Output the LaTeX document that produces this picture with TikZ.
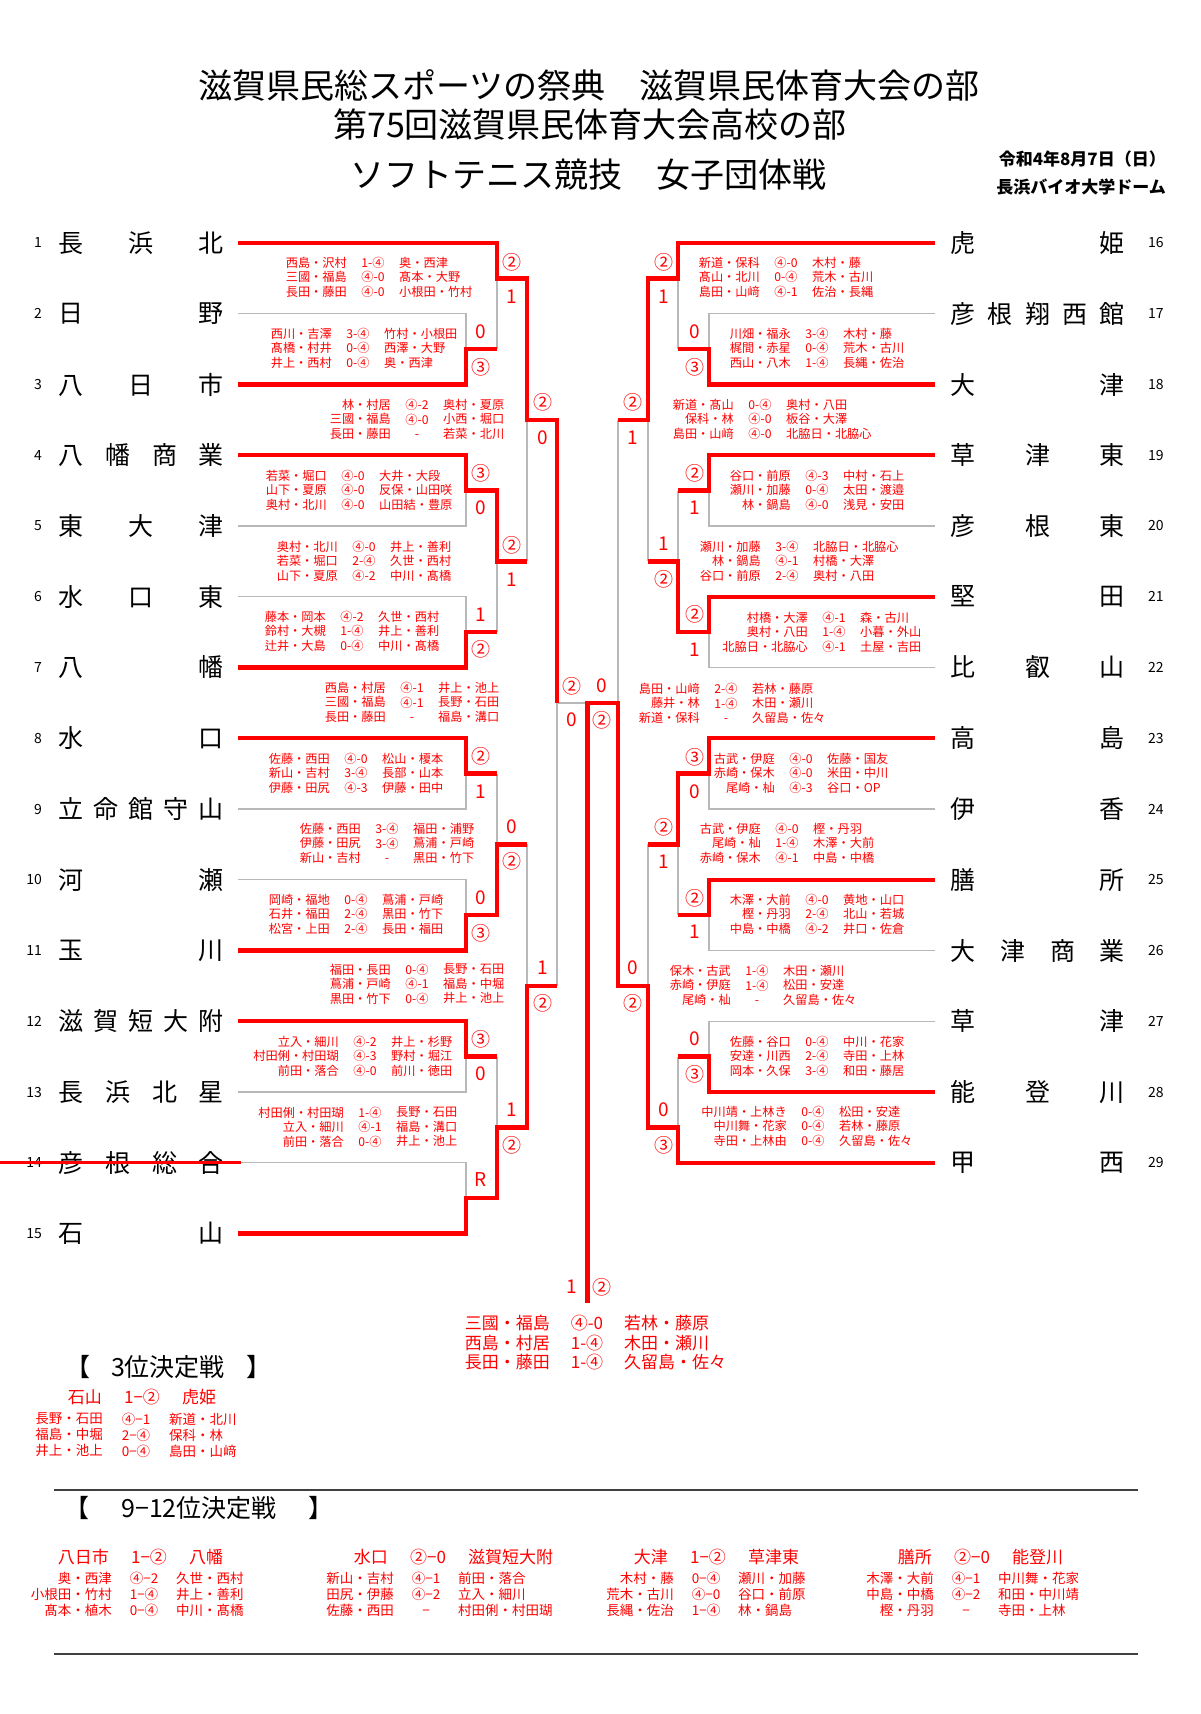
\documentclass[tikz,border=0pt]{standalone}
\usepackage{fontspec}
\setmainfont{Noto Sans CJK JP}
\newcommand\lname[1]{\makebox[165pt]{#1}}
\newcommand\rname[1]{\makebox[174pt]{#1}}
% three columns of a result: pairs, score, pairs
\newcommand\trio[8]{%
  \node[#2,anchor=east,align=right] (#1l) at (#4-#3,#5) {#6};
  \node[#2,align=center] (#1s) at (#4,#5) {#7};
  \node[#2,anchor=west,align=left] (#1r) at (#4+#3,#5) {#8};}
\tikzset{
  win/.style={draw=red,line width=4.3pt},
  lose/.style={draw=black!28,line width=1.3pt},
  rule/.style={draw=black!75,line width=1.3pt},
  strike/.style={draw=red,line width=3pt},
  sc/.style={text=red,inner sep=0pt,font=\fontsize{19}{19}\selectfont},
  team/.style={inner sep=0pt,anchor=west,font=\fontsize{25}{25}\selectfont},
  num/.style={inner sep=0pt,font=\fontsize{14}{14}\selectfont},
  res/.style={text=red,inner sep=0pt,font=\fontsize{12.2}{14.5}\selectfont},
  resbig/.style={text=red,inner sep=0pt,font=\fontsize{17}{19.5}\selectfont},
  resmid/.style={text=red,inner sep=0pt,font=\fontsize{13.5}{16}\selectfont},
  mhead/.style={text=red,inner sep=0pt,font=\fontsize{17}{17}\selectfont},
  toptitle/.style={inner sep=0pt,font=\fontsize{34}{34}\selectfont},
  sect/.style={inner sep=0pt,font=\fontsize{25}{25}\selectfont},
  info/.style={inner sep=0pt,anchor=east,font=\bfseries\fontsize{17}{17}\selectfont},
}
\begin{document}
\begin{tikzpicture}[x=1pt,y=-1pt]
\path[fill=white,use as bounding box] (0,0) rectangle (1200,1714);

% header
\node[toptitle] (h1) at (589,85) {滋賀県民総スポーツの祭典　滋賀県民体育大会の部};
\node[toptitle] (h2) at (590,125) {第75回滋賀県民体育大会高校の部};
\node[toptitle] (h3) at (588,175) {ソフトテニス競技　女子団体戦};
\node[info] (d1) at (1166,159) {令和4年8月7日（日）};
\node[info] (d2) at (1166,187) {長浜バイオ大学ドーム};

% left teams
\node[num,anchor=east] (no1) at (42,243) {1}; \node[team] (t1) at (58.5,243) {\lname{長\hfill{}浜\hfill{}北}}; \coordinate (L1) at (238,243);
\node[num,anchor=east] (no2) at (42,313.8) {2}; \node[team] (t2) at (58.5,313.8) {\lname{日\hfill{}野}}; \coordinate (L2) at (238,313.8);
\node[num,anchor=east] (no3) at (42,384.5) {3}; \node[team] (t3) at (58.5,384.5) {\lname{八\hfill{}日\hfill{}市}}; \coordinate (L3) at (238,384.5);
\node[num,anchor=east] (no4) at (42,455.3) {4}; \node[team] (t4) at (58.5,455.3) {\lname{八\hfill{}幡\hfill{}商\hfill{}業}}; \coordinate (L4) at (238,455.3);
\node[num,anchor=east] (no5) at (42,526) {5}; \node[team] (t5) at (58.5,526) {\lname{東\hfill{}大\hfill{}津}}; \coordinate (L5) at (238,526);
\node[num,anchor=east] (no6) at (42,596.8) {6}; \node[team] (t6) at (58.5,596.8) {\lname{水\hfill{}口\hfill{}東}}; \coordinate (L6) at (238,596.8);
\node[num,anchor=east] (no7) at (42,667.5) {7}; \node[team] (t7) at (58.5,667.5) {\lname{八\hfill{}幡}}; \coordinate (L7) at (238,667.5);
\node[num,anchor=east] (no8) at (42,738.3) {8}; \node[team] (t8) at (58.5,738.3) {\lname{水\hfill{}口}}; \coordinate (L8) at (238,738.3);
\node[num,anchor=east] (no9) at (42,809) {9}; \node[team] (t9) at (58.5,809) {\lname{立\hfill{}命\hfill{}館\hfill{}守\hfill{}山}}; \coordinate (L9) at (238,809);
\node[num,anchor=east] (no10) at (42,879.8) {10}; \node[team] (t10) at (58.5,879.8) {\lname{河\hfill{}瀬}}; \coordinate (L10) at (238,879.8);
\node[num,anchor=east] (no11) at (42,950.5) {11}; \node[team] (t11) at (58.5,950.5) {\lname{玉\hfill{}川}}; \coordinate (L11) at (238,950.5);
\node[num,anchor=east] (no12) at (42,1021.3) {12}; \node[team] (t12) at (58.5,1021.3) {\lname{滋\hfill{}賀\hfill{}短\hfill{}大\hfill{}附}}; \coordinate (L12) at (238,1021.3);
\node[num,anchor=east] (no13) at (42,1092) {13}; \node[team] (t13) at (58.5,1092) {\lname{長\hfill{}浜\hfill{}北\hfill{}星}}; \coordinate (L13) at (238,1092);
\node[num,anchor=east] (no14) at (42,1162.8) {14}; \node[team] (t14) at (58.5,1162.8) {\lname{彦\hfill{}根\hfill{}総\hfill{}合}}; \coordinate (L14) at (238,1162.8);
\node[num,anchor=east] (no15) at (42,1233.5) {15}; \node[team] (t15) at (58.5,1233.5) {\lname{石\hfill{}山}}; \coordinate (L15) at (238,1233.5);

% right teams
\node[team] (t16) at (950.5,243) {\rname{虎\hfill{}姫}}; \node[num,anchor=west] (no16) at (1148,243) {16}; \coordinate (R16) at (935,243);
\node[team] (t17) at (950.5,313.8) {\rname{彦\hfill{}根\hfill{}翔\hfill{}西\hfill{}館}}; \node[num,anchor=west] (no17) at (1148,313.8) {17}; \coordinate (R17) at (935,313.8);
\node[team] (t18) at (950.5,384.5) {\rname{大\hfill{}津}}; \node[num,anchor=west] (no18) at (1148,384.5) {18}; \coordinate (R18) at (935,384.5);
\node[team] (t19) at (950.5,455.3) {\rname{草\hfill{}津\hfill{}東}}; \node[num,anchor=west] (no19) at (1148,455.3) {19}; \coordinate (R19) at (935,455.3);
\node[team] (t20) at (950.5,526) {\rname{彦\hfill{}根\hfill{}東}}; \node[num,anchor=west] (no20) at (1148,526) {20}; \coordinate (R20) at (935,526);
\node[team] (t21) at (950.5,596.8) {\rname{堅\hfill{}田}}; \node[num,anchor=west] (no21) at (1148,596.8) {21}; \coordinate (R21) at (935,596.8);
\node[team] (t22) at (950.5,667.5) {\rname{比\hfill{}叡\hfill{}山}}; \node[num,anchor=west] (no22) at (1148,667.5) {22}; \coordinate (R22) at (935,667.5);
\node[team] (t23) at (950.5,738.3) {\rname{高\hfill{}島}}; \node[num,anchor=west] (no23) at (1148,738.3) {23}; \coordinate (R23) at (935,738.3);
\node[team] (t24) at (950.5,809) {\rname{伊\hfill{}香}}; \node[num,anchor=west] (no24) at (1148,809) {24}; \coordinate (R24) at (935,809);
\node[team] (t25) at (950.5,879.8) {\rname{膳\hfill{}所}}; \node[num,anchor=west] (no25) at (1148,879.8) {25}; \coordinate (R25) at (935,879.8);
\node[team] (t26) at (950.5,950.5) {\rname{大\hfill{}津\hfill{}商\hfill{}業}}; \node[num,anchor=west] (no26) at (1148,950.5) {26}; \coordinate (R26) at (935,950.5);
\node[team] (t27) at (950.5,1021.3) {\rname{草\hfill{}津}}; \node[num,anchor=west] (no27) at (1148,1021.3) {27}; \coordinate (R27) at (935,1021.3);
\node[team] (t28) at (950.5,1092) {\rname{能\hfill{}登\hfill{}川}}; \node[num,anchor=west] (no28) at (1148,1092) {28}; \coordinate (R28) at (935,1092);
\node[team] (t29) at (950.5,1162.8) {\rname{甲\hfill{}西}}; \node[num,anchor=west] (no29) at (1148,1162.8) {29}; \coordinate (R29) at (935,1162.8);

% joints
\coordinate (j23) at (466,349.1); \coordinate (j45) at (466,490.6); \coordinate (j67) at (466,632.1);
\coordinate (j89) at (466,773.6); \coordinate (j1011) at (466,915.1); \coordinate (j1213) at (466,1056.6);
\coordinate (j1415) at (466,1198.1);
\coordinate (q1) at (497,278.4); \coordinate (q2) at (497,561.4); \coordinate (q3) at (497,844.4); \coordinate (q4) at (497,1127.4);
\coordinate (m1) at (527,419.9); \coordinate (m2) at (527,985.9);
\coordinate (s1) at (557,702.9);
\coordinate (j1718) at (709,349.1); \coordinate (j1920) at (709,490.6); \coordinate (j2122) at (709,632.1);
\coordinate (j2324) at (709,773.6); \coordinate (j2526) at (709,915.1); \coordinate (j2728) at (709,1056.6);
\coordinate (q5) at (678,278.4); \coordinate (q6) at (678,561.4); \coordinate (q7) at (678,844.4); \coordinate (q8) at (678,1127.4);
\coordinate (m3) at (648,419.9); \coordinate (m4) at (648,985.9);
\coordinate (s2) at (618,702.9);
\coordinate (fa) at (587.5,702.9); \coordinate (fb) at (587.5,1303);

% left bracket
\draw[lose] (L2) -| (j23);
\draw[lose] (j23 -| q1) -- (q1);
\draw[lose] (L5) -| (j45);
\draw[lose] (L6) -| (j67);
\draw[lose] (j67 -| q2) -- (q2);
\draw[lose] (q2 -| m1) -- (m1);
\draw[lose] (L9) -| (j89);
\draw[lose] (L10) -| (j1011);
\draw[lose] (j89 -| q3) -- (q3);
\draw[lose] (q3 -| m2) -- (m2);
\draw[lose] (L13) -| (j1213);
\draw[lose] (L14) -| (j1415);
\draw[lose] (j1213 -| q4) -- (q4);
\draw[lose] (m2 -| s1) -- (s1);
\draw[lose] (s1) -- (fa);
\draw[win] (L1) -| (q1) -| (m1) -| (s1);
\draw[win] (L3) -| (j23) -- (j23 -| q1);
\draw[win] (L4) -| (j45) -| (q2) -- (q2 -| m1);
\draw[win] (L7) -| (j67) -- (j67 -| q2);
\draw[win] (L8) -| (j89) -- (j89 -| q3);
\draw[win] (L11) -| (j1011) -| (q3) -- (q3 -| m2);
\draw[win] (L12) -| (j1213) -- (j1213 -| q4);
\draw[win] (L15) -| (j1415) -| (q4) -| (m2) -- (m2 -| s1);

% right bracket
\draw[lose] (R17) -| (j1718);
\draw[lose] (j1718 -| q5) -- (q5);
\draw[lose] (R20) -| (j1920);
\draw[lose] (j1920 -| q6) -- (q6);
\draw[lose] (R22) -| (j2122);
\draw[lose] (q6 -| m3) -- (m3);
\draw[lose] (m3 -| s2) -- (s2);
\draw[lose] (R24) -| (j2324);
\draw[lose] (R26) -| (j2526);
\draw[lose] (j2526 -| q7) -- (q7);
\draw[lose] (q7 -| m4) -- (m4);
\draw[lose] (R27) -| (j2728);
\draw[lose] (j2728 -| q8) -- (q8);
\draw[win] (R16) -| (q5) -| (m3) -- (m3 -| s2);
\draw[win] (R18) -| (j1718) -- (j1718 -| q5);
\draw[win] (R19) -| (j1920) -- (j1920 -| q6);
\draw[win] (R21) -| (j2122) -| (q6) -- (q6 -| m3);
\draw[win] (R23) -| (j2324) -| (q7) -- (q7 -| m4);
\draw[win] (R25) -| (j2526) -- (j2526 -| q7);
\draw[win] (R28) -| (j2728) -- (j2728 -| q8);
\draw[win] (R29) -| (q8) -| (m4) -| (s2) -- (fa) -- (fb);

% withdrawn team
\coordinate (x1) at (0,1162.8); \coordinate (x2) at (241,1162.8);
\draw[strike] (x1) -- (x2);

% scores, left
\node[sc] (ls1) at (481,332) {0}; \node[sc] (ls2) at (481,367) {③};
\node[sc] (ls3) at (481,473) {③}; \node[sc] (ls4) at (481,508) {0};
\node[sc] (ls5) at (481,615) {1}; \node[sc] (ls6) at (481,649) {②};
\node[sc] (ls7) at (481,756) {②}; \node[sc] (ls8) at (481,792) {1};
\node[sc] (ls9) at (481,898) {0}; \node[sc] (ls10) at (481,933) {③};
\node[sc] (ls11) at (481,1039) {③}; \node[sc] (ls12) at (481,1074) {0};
\node[sc] (ls13) at (481,1180) {R};
\node[sc] (ls14) at (512,262) {②}; \node[sc] (ls15) at (512,297) {1};
\node[sc] (ls16) at (512,545) {②}; \node[sc] (ls17) at (512,580) {1};
\node[sc] (ls18) at (512,827) {0}; \node[sc] (ls19) at (512,861) {②};
\node[sc] (ls20) at (512,1110) {1}; \node[sc] (ls21) at (512,1145) {②};
\node[sc] (ls22) at (543,402) {②}; \node[sc] (ls23) at (543,438) {0};
\node[sc] (ls24) at (543,968) {1}; \node[sc] (ls25) at (543,1003) {②};
\node[sc] (ls26) at (572,686) {②}; \node[sc] (ls27) at (572,720) {0};

% scores, right
\node[sc] (rs1) at (695,332) {0}; \node[sc] (rs2) at (695,367) {③};
\node[sc] (rs3) at (695,473) {②}; \node[sc] (rs4) at (695,508) {1};
\node[sc] (rs5) at (695,614) {②}; \node[sc] (rs6) at (695,650) {1};
\node[sc] (rs7) at (695,757) {③}; \node[sc] (rs8) at (695,792) {0};
\node[sc] (rs9) at (695,898) {②}; \node[sc] (rs10) at (695,932) {1};
\node[sc] (rs11) at (695,1039) {0}; \node[sc] (rs12) at (695,1074) {③};
\node[sc] (rs13) at (664,262) {②}; \node[sc] (rs14) at (664,297) {1};
\node[sc] (rs15) at (664,544) {1}; \node[sc] (rs16) at (664,579) {②};
\node[sc] (rs17) at (664,827) {②}; \node[sc] (rs18) at (664,862) {1};
\node[sc] (rs19) at (664,1110) {0}; \node[sc] (rs20) at (664,1145) {③};
\node[sc] (rs21) at (633,402) {②}; \node[sc] (rs22) at (633,438) {1};
\node[sc] (rs23) at (633,968) {0}; \node[sc] (rs24) at (633,1003) {②};
\node[sc] (rs25) at (602,686) {0}; \node[sc] (rs26) at (602,720) {②};

% final
\node[sc] (fs1) at (572,1287) {1}; \node[sc] (fs2) at (602,1287) {②};
\trio{fin}{resbig}{37}{587}{1343}{三國・福島\\西島・村居\\長田・藤田}{④-0\\1-④\\1-④}{若林・藤原\\木田・瀬川\\久留島・佐々}

% match details, left
\trio{a1}{res}{26}{373}{277}{西島・沢村\\三國・福島\\長田・藤田}{1-④\\④-0\\④-0}{奥・西津\\髙本・大野\\小根田・竹村}
\trio{a2}{res}{26}{358}{348}{西川・吉澤\\髙橋・村井\\井上・西村}{3-④\\0-④\\0-④}{竹村・小根田\\西澤・大野\\奥・西津}
\trio{a3}{res}{26}{417}{419}{林・村居\\三國・福島\\長田・藤田}{④-2\\④-0\\-}{奥村・夏原\\小西・堀口\\若菜・北川}
\trio{a4}{res}{26}{353}{490}{若菜・堀口\\山下・夏原\\奥村・北川}{④-0\\④-0\\④-0}{大井・大段\\反保・山田咲\\山田結・豊原}
\trio{a5}{res}{26}{364}{561}{奥村・北川\\若菜・堀口\\山下・夏原}{④-0\\2-④\\④-2}{井上・善利\\久世・西村\\中川・髙橋}
\trio{a6}{res}{26}{352}{631}{藤本・岡本\\鈴村・大槻\\辻井・大島}{④-2\\1-④\\0-④}{久世・西村\\井上・善利\\中川・髙橋}
\trio{a7}{res}{26}{412}{702}{西島・村居\\三國・福島\\長田・藤田}{④-1\\④-1\\-}{井上・池上\\長野・石田\\福島・溝口}
\trio{a8}{res}{26}{356}{773}{佐藤・西田\\新山・吉村\\伊藤・田尻}{④-0\\3-④\\④-3}{松山・榎本\\長部・山本\\伊藤・田中}
\trio{a9}{res}{26}{387}{843}{佐藤・西田\\伊藤・田尻\\新山・吉村}{3-④\\3-④\\-}{福田・浦野\\蔦浦・戸崎\\黒田・竹下}
\trio{a10}{res}{26}{356}{914}{岡崎・福地\\石井・福田\\松宮・上田}{0-④\\2-④\\2-④}{蔦浦・戸崎\\黒田・竹下\\長田・福田}
\trio{a11}{res}{26}{417}{984}{福田・長田\\蔦浦・戸崎\\黒田・竹下}{0-④\\④-1\\0-④}{長野・石田\\福島・中堀\\井上・池上}
\trio{a12}{res}{26}{365}{1056}{立入・細川\\村田俐・村田瑚\\前田・落合}{④-2\\④-3\\④-0}{井上・杉野\\野村・堀江\\前川・徳田}
\trio{a13}{res}{26}{370}{1127}{村田俐・村田瑚\\立入・細川\\前田・落合}{1-④\\④-1\\0-④}{長野・石田\\福島・溝口\\井上・池上}

% match details, right
\trio{b1}{res}{26}{786}{277}{新道・保科\\髙山・北川\\島田・山﨑}{④-0\\0-④\\④-1}{木村・藤\\荒木・古川\\佐治・長縄}
\trio{b2}{res}{26}{817}{348}{川畑・福永\\梶間・赤星\\西山・八木}{3-④\\0-④\\1-④}{木村・藤\\荒木・古川\\長縄・佐治}
\trio{b3}{res}{26}{760}{419}{新道・髙山\\保科・林\\島田・山﨑}{0-④\\④-0\\④-0}{奥村・八田\\板谷・大澤\\北脇日・北脇心}
\trio{b4}{res}{26}{817}{490}{谷口・前原\\瀬川・加藤\\林・鍋島}{④-3\\0-④\\④-0}{中村・石上\\太田・渡邉\\浅見・安田}
\trio{b5}{res}{26}{787}{561}{瀬川・加藤\\林・鍋島\\谷口・前原}{3-④\\④-1\\2-④}{北脇日・北脇心\\村橋・大澤\\奥村・八田}
\trio{b6}{res}{26}{834}{632}{村橋・大澤\\奥村・八田\\北脇日・北脇心}{④-1\\1-④\\④-1}{森・古川\\小暮・外山\\土屋・吉田}
\trio{b7}{res}{26}{726}{703}{島田・山﨑\\藤井・林\\新道・保科}{2-④\\1-④\\-}{若林・藤原\\木田・瀬川\\久留島・佐々}
\trio{b8}{res}{26}{801}{773}{古武・伊庭\\赤崎・保木\\尾崎・杣}{④-0\\④-0\\④-3}{佐藤・国友\\米田・中川\\谷口・OP}
\trio{b9}{res}{26}{787}{843}{古武・伊庭\\尾崎・杣\\赤崎・保木}{④-0\\1-④\\④-1}{樫・丹羽\\木澤・大前\\中島・中橋}
\trio{b10}{res}{26}{817}{914}{木澤・大前\\樫・丹羽\\中島・中橋}{④-0\\2-④\\④-2}{黄地・山口\\北山・若城\\井口・佐倉}
\trio{b11}{res}{26}{757}{985}{保木・古武\\赤崎・伊庭\\尾崎・杣}{1-④\\1-④\\-}{木田・瀬川\\松田・安達\\久留島・佐々}
\trio{b12}{res}{26}{817}{1056}{佐藤・谷口\\安達・川西\\岡本・久保}{0-④\\2-④\\3-④}{中川・花家\\寺田・上林\\和田・藤居}
\trio{b13}{res}{26}{813}{1126}{中川靖・上林き\\中川舞・花家\\寺田・上林由}{0-④\\0-④\\0-④}{松田・安達\\若林・藤原\\久留島・佐々}

% 3rd place
\node[sect] (tp1) at (78,1367) {【};
\node[sect] (tp2) at (168,1367) {3位決定戦};
\node[sect] (tp3) at (259,1367) {】};
\trio{tph}{mhead}{40}{142}{1397}{石山}{1−②}{虎姫}
\trio{tpr}{resmid}{33}{136}{1435}{長野・石田\\福島・中堀\\井上・池上}{④−1\\2−④\\0−④}{新道・北川\\保科・林\\島田・山﨑}

% 9-12
\coordinate (u1) at (54,1490); \coordinate (u2) at (1138,1490);
\coordinate (v1) at (54,1654); \coordinate (v2) at (1138,1654);
\draw[rule] (u1) -- (u2);
\draw[rule] (v1) -- (v2);
\node[sect] (nt1) at (77,1508) {【};
\node[sect] (nt2) at (199,1508) {9−12位決定戦};
\node[sect] (nt3) at (321,1508) {】};
\trio{e1}{mhead}{40}{149}{1557}{八日市}{1−②}{八幡}
\trio{e2}{mhead}{40}{428}{1557}{水口}{②−0}{滋賀短大附}
\trio{e3}{mhead}{40}{708}{1557}{大津}{1−②}{草津東}
\trio{e4}{mhead}{40}{972}{1557}{膳所}{②−0}{能登川}
\trio{g1}{resmid}{32}{144}{1594}{奥・西津\\小根田・竹村\\髙本・植木}{④−2\\1−④\\0−④}{久世・西村\\井上・善利\\中川・髙橋}
\trio{g2}{resmid}{32}{426}{1594}{新山・吉村\\田尻・伊藤\\佐藤・西田}{④−1\\④−2\\−}{前田・落合\\立入・細川\\村田俐・村田瑚}
\trio{g3}{resmid}{32}{706}{1594}{木村・藤\\荒木・古川\\長縄・佐治}{0−④\\④−0\\1−④}{瀬川・加藤\\谷口・前原\\林・鍋島}
\trio{g4}{resmid}{32}{966}{1594}{木澤・大前\\中島・中橋\\樫・丹羽}{④−1\\④−2\\−}{中川舞・花家\\和田・中川靖\\寺田・上林}
\end{tikzpicture}
\end{document}
